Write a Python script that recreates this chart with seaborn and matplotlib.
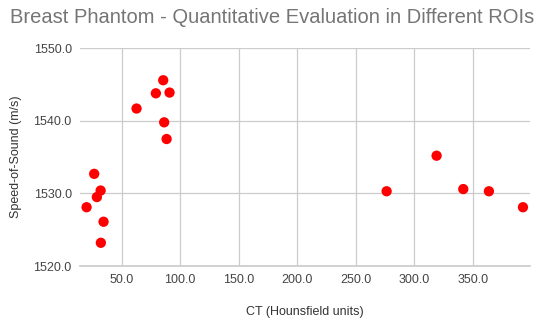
import matplotlib
matplotlib.use("Agg")
import matplotlib.pyplot as plt
import seaborn as sns
import pandas as pd

ct_hu = [20.1, 26.6, 32.1, 28.9, 34.6, 32.3, 62.8, 79.3, 85.6, 91.0, 86.4, 88.5,
         276.5, 319.2, 342.0, 363.9, 393.0]
sos = [1528.1, 1532.7, 1530.4, 1529.5, 1526.1, 1523.2, 1541.7, 1543.8, 1545.6, 1543.9,
       1539.8, 1537.5, 1530.3, 1535.2, 1530.6, 1530.3, 1528.1]
x_ticks = [50, 100, 150, 200, 250, 300, 350]
y_ticks = [1520, 1530, 1540, 1550]

df = pd.DataFrame({"ct": ct_hu, "sos": sos})

sns.set_theme(style="white")
plt.rcParams["font.family"] = ["Liberation Sans", "DejaVu Sans"]

fig = plt.figure(figsize=(5.5, 3.25), dpi=100)
ax = fig.add_axes([0.1455, 0.1815, 0.8181, 0.6699])

sns.scatterplot(data=df, x="ct", y="sos", color="#ff0000", s=55, edgecolor="none",
                ax=ax, zorder=3)

ax.set_xlim(14.5, 399)
ax.set_ylim(1520, 1550)
ax.set_xticks(x_ticks)
ax.set_xticklabels([f"{v:.1f}" for v in x_ticks])
ax.set_yticks(y_ticks)
ax.set_yticklabels([f"{v:.1f}" for v in y_ticks])
ax.grid(True, color="#cccccc", linewidth=0.9)
ax.set_axisbelow(True)
for s in ["top", "right", "left"]:
    ax.spines[s].set_visible(False)
ax.spines["bottom"].set_color("#cccccc")
ax.tick_params(axis="both", length=0, labelsize=9, colors="#444444", pad=6)

ax.set_xlabel("CT (Hounsfield units)", fontsize=9, color="#333333", labelpad=14)
ax.set_ylabel("Speed-of-Sound (m/s)", fontsize=9, color="#333333", labelpad=8)

fig.text(0.018, 0.945, "Breast Phantom - Quantitative Evaluation in Different ROIs",
         fontsize=14.5, color="#757575", ha="left", va="center")

fig.savefig("out.png", dpi=100)
